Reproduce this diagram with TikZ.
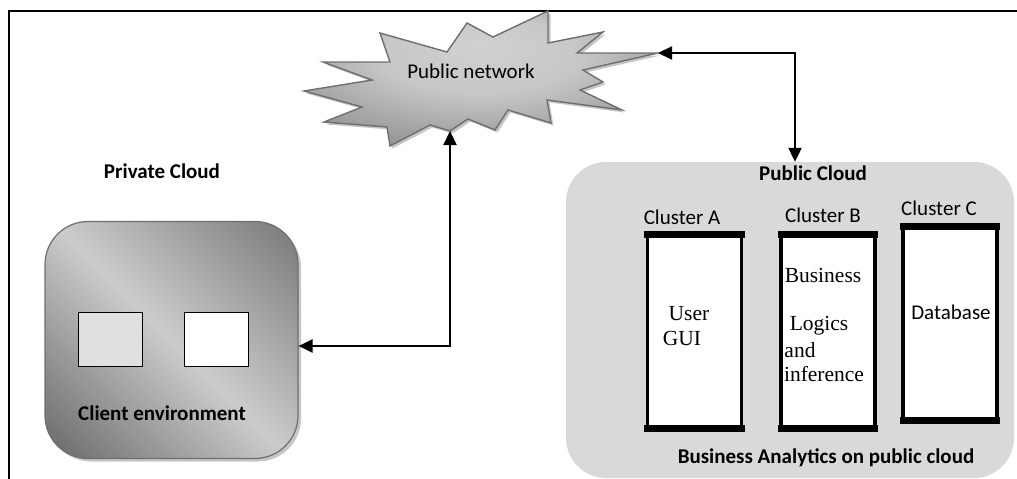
\documentclass[tikz,border=0pt]{standalone}
\usepackage{fontspec}
\setmainfont{Liberation Serif}
\newfontfamily\carlitofont{Carlito}
\usetikzlibrary{arrows.meta,shadows}
\definecolor{cloudgray}{HTML}{D9D9D9}
\definecolor{edgegray}{HTML}{6E6E6E}
\pgfdeclarehorizontalshading{clientshade}{100bp}{color(0bp)=(black!62); color(16bp)=(black!58); color(50bp)=(black!20); color(84bp)=(black!52); color(100bp)=(black!55)}
\pgfdeclareradialshading{starshade}{\pgfpoint{0bp}{12bp}}{color(0bp)=(black!18); color(14bp)=(black!22); color(30bp)=(black!40); color(50bp)=(black!55)}
\tikzset{
  sans/.style={font=\carlitofont\fontsize{21}{24}\selectfont, inner sep=0pt},
  sansb/.style={font=\carlitofont\bfseries\fontsize{21}{24}\selectfont, inner sep=0pt},
  serif/.style={font=\fontsize{21.5}{24}\selectfont, inner sep=0pt},
  clusterbox/.style={draw=black, fill=white, line width=3.2pt, minimum width=94pt, minimum height=194pt, inner sep=0pt,
     drop shadow={shadow xshift=1.5pt, shadow yshift=-1.5pt, fill=gray!60, opacity=1}},
  conn/.style={line width=2.2pt, {Triangle[length=14pt,width=13pt]}-{Triangle[length=14pt,width=13pt]}},
}
\begin{document}
\begin{tikzpicture}[x=1pt,y=-1pt]
\useasboundingbox (0,0) rectangle (1017,479);
% frame
\draw[line width=1.8pt] (9,479) -- (9,11) -- (1017,11);

% public network star
\draw[draw=edgegray, line width=1.4pt, shading=starshade,
      drop shadow={shadow xshift=2.5pt, shadow yshift=-2.5pt, fill=gray!45, opacity=1}]
  (304,91) -- (372,80) -- (323,62) -- (390,62) -- (380,33) -- (447,52) -- (467,23)
  -- (493,37) -- (548,11) -- (548,43) -- (603,32) -- (577,53) -- (658,53)
  -- (583,70) -- (603,82) -- (580,90) -- (622,110) -- (547,100) -- (551,123)
  -- (508,110) -- (495,130) -- (468,119) -- (450,131) -- (430,125) -- (390,146)
  -- (387,127) -- (324,122) -- (362,107) -- cycle;
\node[sans] (net) at (471,71) {Public network};
\coordinate (netR) at (658,53);
\coordinate (netB) at (450,131);

% private cloud
\node[sansb] (privlabel) at (162,171) {Private Cloud};
\node[draw=edgegray, line width=1.2pt, rounded corners=43pt, minimum width=253pt, minimum height=237pt,
      shading=clientshade, shading angle=45,
      drop shadow={shadow xshift=3pt, shadow yshift=-3pt, fill=gray!45, opacity=1}]
  (client) at (171.5,340) {};
\node[draw=black, line width=1.4pt, fill=black!12, minimum width=64pt, minimum height=54pt, inner sep=0pt] (sq1) at (110.5,339.5) {};
\node[draw=black, line width=1.4pt, fill=white, minimum width=64pt, minimum height=54pt, inner sep=0pt] (sq2) at (216.5,339.5) {};
\node[sansb] (clientlabel) at (162,413) {Client environment};

% public cloud
\node[fill=cloudgray, rounded corners=40pt, minimum width=448pt, minimum height=316pt, inner sep=0pt] (pub) at (790,320) {};
\node[sansb] (publabel) at (813,173) {Public Cloud};

\node[sans] (la) at (682,217) {Cluster A};
\node[sans] (lb) at (823,215) {Cluster B};
\node[sans] (lc) at (939,208) {Cluster C};

\node[clusterbox] (ca) at (694.5,331.5) {};
\node[clusterbox] (cb) at (828,331.5) {};
\node[clusterbox] (cc) at (950,323.5) {};
\foreach \c in {ca,cb,cc}{
  \fill ([shift={(-1.6pt,1.6pt)}]\c.north west) rectangle ([shift={(1.6pt,-5.5pt)}]\c.north east);
  \fill ([shift={(-1.6pt,5.5pt)}]\c.south west) rectangle ([shift={(1.6pt,-1.6pt)}]\c.south east);
}

\node[serif] (user) at (689,314) {User};
\node[serif] (gui) at (682,338) {GUI};
\node[serif] (bus) at (823,275) {Business};
\node[serif] (log) at (819,326) {Logics};
\node[serif] (and) at (800,350) {and};
\node[serif] (inf) at (824,374) {inference};
\node[sans] (db) at (951,312) {Database};

\node[sansb] (balabel) at (826,458) {Business Analytics on public cloud};

% connectors
\coordinate (c1) at (795,53);
\draw[conn] (netR) -- (c1) -- (c1 |- pub.north);
\coordinate (c2) at (450,346);
\draw[conn] (netB) -- (c2) -- (c2 -| client.east);
\end{tikzpicture}
\end{document}
